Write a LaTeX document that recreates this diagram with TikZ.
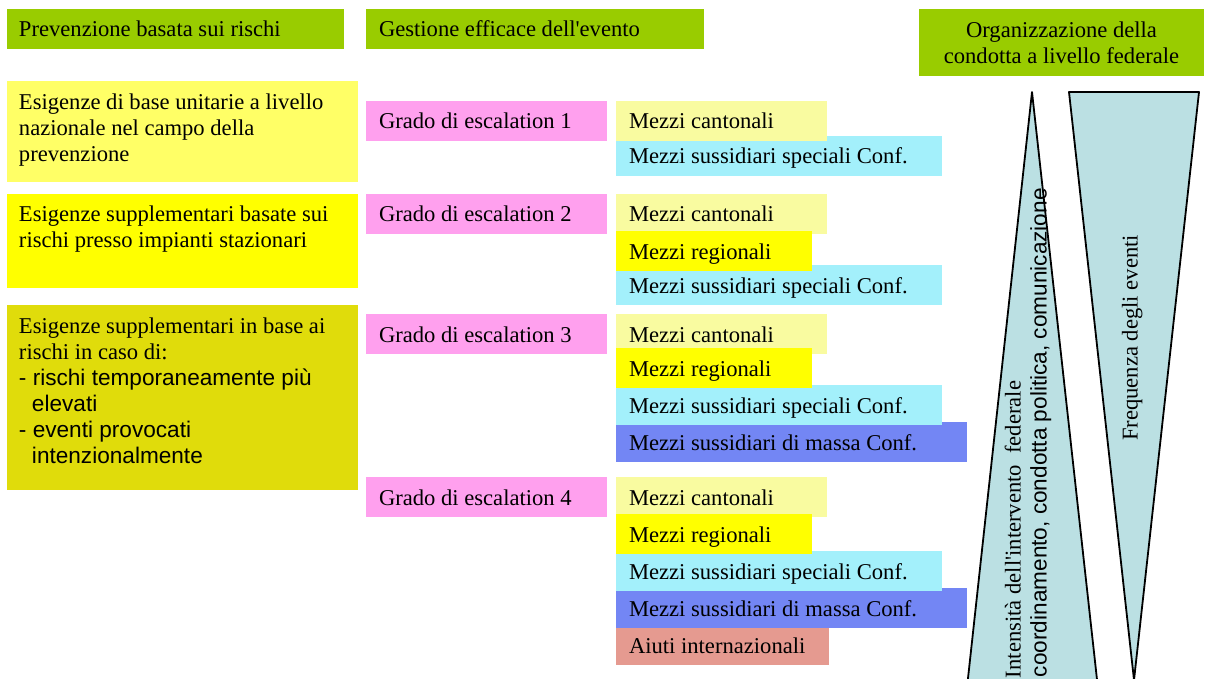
\documentclass[tikz,border=0pt]{standalone}
\usepackage{fontspec}
\setmainfont{Liberation Serif}[Ligatures=TeXOff]
\setsansfont{Liberation Sans}[Ligatures=TeXOff]
\definecolor{hdr}{HTML}{99CC00}
\definecolor{lone}{HTML}{FFFF66}
\definecolor{ltwo}{HTML}{FFFF00}
\definecolor{lthree}{HTML}{E0DC0B}
\definecolor{pinkG}{HTML}{FFA0EE}
\definecolor{cant}{HTML}{F9FBA0}
\definecolor{reg}{HTML}{FFFF00}
\definecolor{spec}{HTML}{A3F0FB}
\definecolor{massa}{HTML}{7386F4}
\definecolor{aiuti}{HTML}{E59A90}
\definecolor{triC}{HTML}{BBE0E3}
\newcommand{\mkbox}[6]{%
  \node[boxr, fill=#5, minimum width=#4pt] (#1) at (#2,#3) {};
  \node[lbl] (#1t) at ([xshift=13pt,yshift=-28pt]#1.north west) {#6};}
\begin{document}
\begin{tikzpicture}[x=1pt,y=-1pt,
  every node/.style={font=\fontsize{22.6}{26}\selectfont, inner sep=0pt, outer sep=0pt, text=black},
  boxr/.style={anchor=north west, minimum height=40pt, draw=none},
  lbl/.style={anchor=base west},
  tri/.style={fill=triC, draw=black, line width=1.8pt, line join=round},
  sfnt/.style={font=\fontsize{22.6}{26}\selectfont\sffamily}]
\useasboundingbox (0,0) rectangle (1207,679);

% headers
\node[boxr, fill=hdr, minimum width=337pt] (h1) at (7,9) {};
\node[lbl] (h1t) at ([xshift=12pt,yshift=-28pt]h1.north west) {Prevenzione basata sui rischi};
\node[boxr, fill=hdr, minimum width=338pt] (h2) at (366,9) {};
\node[lbl] (h2t) at ([xshift=13pt,yshift=-28pt]h2.north west) {Gestione efficace dell'evento};
\node[boxr, fill=hdr, minimum width=285pt, minimum height=67pt] (h3) at (919,9) {};
\node[anchor=base] (h3t) at (1061.5,37.5) {\parbox[t]{284pt}{\centering Organizzazione della\\condotta a livello federale}};

% left column
\node[boxr, fill=lone, minimum width=351pt, minimum height=101pt] (l1) at (7,81) {};
\node[anchor=base west] (l1t) at (19,110) {\parbox[t]{338pt}{\raggedright Esigenze di base unitarie a livello\\nazionale nel campo della\\prevenzione}};
\node[boxr, fill=ltwo, minimum width=351pt, minimum height=94pt] (l2) at (7,194) {};
\node[anchor=base west] (l2t) at (19,222) {\parbox[t]{338pt}{\raggedright Esigenze supplementari basate sui\\rischi presso impianti stazionari}};
\node[boxr, fill=lthree, minimum width=351pt, minimum height=185pt] (l3) at (7,305) {};
\node[anchor=base west] (l3t) at (19,333) {\parbox[t]{338pt}{\raggedright Esigenze supplementari in base ai\\rischi in caso di:\\\sffamily - rischi temporaneamente più\\\hspace*{13pt}elevati\\- eventi provocati\\\hspace*{13pt}intenzionalmente}};

% escalation 1
\mkbox{g1}{366}{101}{241}{pinkG}{Grado di escalation 1}
\mkbox{s1}{616}{136}{326}{spec}{Mezzi sussidiari speciali Conf.}
\mkbox{c1}{616}{101}{211}{cant}{Mezzi cantonali}
% escalation 2
\mkbox{g2}{366}{194}{241}{pinkG}{Grado di escalation 2}
\mkbox{s2}{616}{265}{326}{spec}{Mezzi sussidiari speciali Conf.}
\mkbox{c2}{616}{194}{211}{cant}{Mezzi cantonali}
\mkbox{r2}{616}{231}{196}{reg}{Mezzi regionali}
% escalation 3
\mkbox{g3}{366}{314}{241}{pinkG}{Grado di escalation 3}
\mkbox{m3}{616}{422}{351}{massa}{Mezzi sussidiari di massa Conf.}
\mkbox{s3}{616}{385}{326}{spec}{Mezzi sussidiari speciali Conf.}
\mkbox{c3}{616}{314}{211}{cant}{Mezzi cantonali}
\mkbox{r3}{616}{348}{196}{reg}{Mezzi regionali}
% escalation 4
\mkbox{g4}{366}{477}{241}{pinkG}{Grado di escalation 4}
\mkbox{a4}{616}{625}{213}{aiuti}{Aiuti internazionali}
\mkbox{m4}{616}{588}{351}{massa}{Mezzi sussidiari di massa Conf.}
\mkbox{s4}{616}{551}{326}{spec}{Mezzi sussidiari speciali Conf.}
\mkbox{c4}{616}{477}{211}{cant}{Mezzi cantonali}
\mkbox{r4}{616}{514}{196}{reg}{Mezzi regionali}

% triangles
\draw[tri] (1032,92) -- (957,779) -- (1108,779) -- cycle;
\draw[tri] (1069,92) -- (1199,92) -- (1134,680) -- cycle;
\node[rotate=90, anchor=base west] (int) at (1020.5,678) {Intensità dell'intervento\ \ federale};
\node[rotate=90, anchor=base west, sfnt] (coord) at (1046.5,677) {coordinamento, condotta politica, comunicazione};
\node[rotate=90, anchor=base] (freq) at (1137.5,338) {Frequenza degli eventi};
\end{tikzpicture}
\end{document}
